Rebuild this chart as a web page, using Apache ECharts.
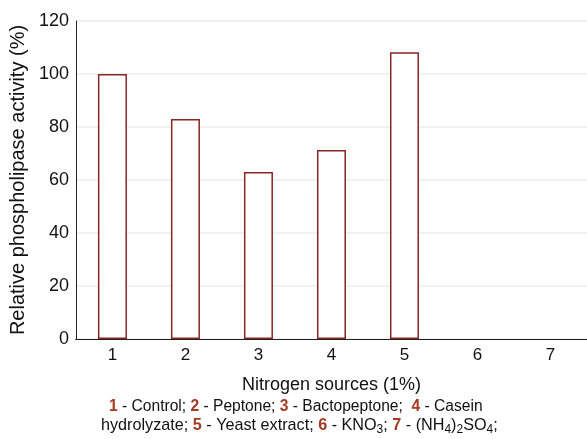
<!DOCTYPE html>
<html>
<head>
<meta charset="utf-8">
<script src="https://cdn.jsdelivr.net/npm/echarts@6/dist/echarts.min.js"></script>
<style>
  html, body { margin: 0; padding: 0; background: #fff; }
  #chart { width: 587px; height: 439px; }
</style>
</head>
<body>
<div id="chart"></div>
<script>
const categories = ['1', '2', '3', '4', '5', '6', '7']
const activity = [100, 83, 63, 71.3, 108.2, 0, 0]
const yTicks = { min: 0, max: 120, interval: 20 }

const barColor = '#8b2525'
const numColor = '#a33a22'
const font = '"Liberation Sans", Arial, sans-serif'

const chart = echarts.init(document.getElementById('chart'))

const option = {
  backgroundColor: '#fff',
  animation: false,
  textStyle: { fontFamily: font },
  grid: { left: 75, right: -2, top: 21, bottom: 100 },
  xAxis: [
    {
      type: 'category',
      data: categories,
      position: 'bottom',
      axisLine: { lineStyle: { color: '#222', width: 1 } },
      axisTick: { inside: true, alignWithLabel: true, length: 4, lineStyle: { color: '#222' } },
      axisLabel: { color: '#111', fontSize: 17, margin: 8, fontFamily: font },
      name: 'Nitrogen sources (1%)',
      nameLocation: 'middle',
      nameGap: 37,
      nameTextStyle: { color: '#111', fontSize: 18, fontFamily: font }
    },
    {
      type: 'category',
      data: categories,
      position: 'top',
      axisLine: { lineStyle: { color: '#222', width: 1 } },
      axisTick: { inside: true, alignWithLabel: true, length: 4, lineStyle: { color: '#222' } },
      axisLabel: { show: false }
    }
  ],
  yAxis: [
    {
      type: 'value',
      min: yTicks.min,
      max: yTicks.max,
      interval: yTicks.interval,
      axisLine: { show: true, lineStyle: { color: '#222' } },
      axisTick: { show: false },
      splitLine: { lineStyle: { color: '#ededed', width: 1.5 } },
      axisLabel: { color: '#111', fontSize: 18, margin: 7, fontFamily: font },
      name: 'Relative phospholipase activity (%)',
      nameLocation: 'middle',
      nameGap: 41,
      nameTextStyle: { color: '#111', fontSize: 20, fontFamily: font }
    },
    {
      type: 'value',
      position: 'right',
      min: yTicks.min,
      max: yTicks.max,
      interval: yTicks.interval,
      axisLine: { show: true, lineStyle: { color: '#222' } },
      axisTick: { show: false },
      axisLabel: { show: false },
      splitLine: { show: false }
    }
  ],
  series: [
    {
      type: 'bar',
      data: activity.map((v) => ({
        value: v,
        itemStyle: v === 0 ? { borderWidth: 0, color: 'transparent' } : undefined
      })),
      barWidth: 29,
      itemStyle: { color: '#fff', borderColor: barColor, borderWidth: 1.5 }
    }
  ],
  graphic: [
    {
      type: 'text',
      left: 109,
      top: 399,
      style: {
        text: '{n|1} - Control; {n|2} - Peptone; {n|3} - Bactopeptone;  {n|4} - Casein',
        fill: '#111',
        font: '15.6px ' + font,
        rich: {
          n: { fill: numColor, fontWeight: 'bold', fontSize: 15.6, fontFamily: font }
        }
      }
    },
    {
      type: 'text',
      left: 101,
      top: 418,
      style: {
        text: 'hydrolyzate; {n|5} - Yeast extract; {n|6} - KNO{s|3}; {n|7} - (NH{s|4}){s|2}SO{s|4};',
        fill: '#111',
        font: '16.2px ' + font,
        rich: {
          n: { fill: numColor, fontWeight: 'bold', fontSize: 16.2, fontFamily: font },
          s: { fontSize: 12, fontFamily: font, fill: '#111', padding: [8, 0, 0, 0] }
        }
      }
    }
  ]
}

chart.setOption(option)
</script>
</body>
</html>
